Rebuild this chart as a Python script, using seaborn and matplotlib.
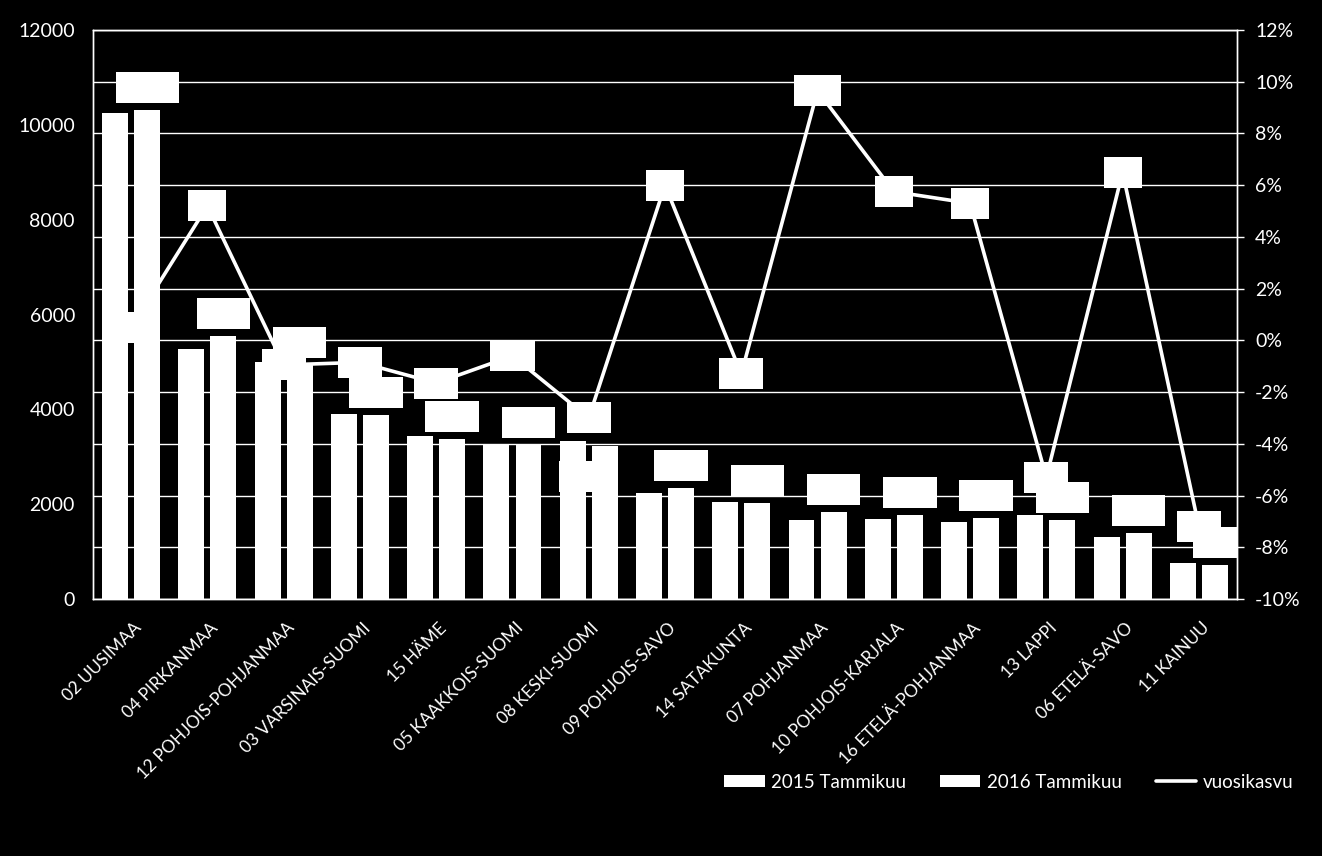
import numpy as np
import pandas as pd
import matplotlib
matplotlib.use("Agg")
import matplotlib.pyplot as plt
import seaborn as sns
from matplotlib.patches import Patch
from matplotlib.lines import Line2D
from matplotlib.transforms import ScaledTranslation

# ---------------- data ----------------
regions = ['02 UUSIMAA', '04 PIRKANMAA', '12 POHJOIS-POHJANMAA', '03 VARSINAIS-SUOMI',
           '15 HÄME', '05 KAAKKOIS-SUOMI', '08 KESKI-SUOMI', '09 POHJOIS-SAVO',
           '14 SATAKUNTA', '07 POHJANMAA', '10 POHJOIS-KARJALA', '16 ETELÄ-POHJANMAA',
           '13 LAPPI', '06 ETELÄ-SAVO', '11 KAINUU']
jan2015 = [10250, 5280, 5000, 3910, 3440, 3250, 3330, 2225, 2050, 1670, 1690, 1625, 1770, 1310, 760]
jan2016 = [10310, 5550, 4950, 3885, 3380, 3250, 3230, 2345, 2030, 1840, 1775, 1705, 1665, 1395, 715]
growth = [0.5, 5.2, -0.95, -0.85, -1.65, -0.6, -3.0, 6.0, -1.3, 9.65, 5.75, 5.3, -5.3, 6.5, -7.2]
series_names = ['2015 Tammikuu', '2016 Tammikuu', 'vuosikasvu']
left_ticks = [0, 2000, 4000, 6000, 8000, 10000, 12000]
right_ticks = [-10, -8, -6, -4, -2, 0, 2, 4, 6, 8, 10, 12]

df = pd.DataFrame({
    'region': regions * 2,
    'year': [series_names[0]] * len(regions) + [series_names[1]] * len(regions),
    'value': jan2015 + jan2016,
})

# ---------------- style ----------------
sns.set_style("dark")
plt.rcParams['font.family'] = ['Lato', 'DejaVu Sans']
plt.rcParams['axes.unicode_minus'] = False
W = 'white'
BG = 'black'

fig = plt.figure(figsize=(13.22, 8.56), dpi=100, facecolor=BG)
ax = fig.add_axes([93/1322, 1 - 599/856, (1237 - 93)/1322, (599 - 30)/856])
ax.set_facecolor(BG)

sns.barplot(data=df, x='region', y='value', hue='year', palette=[W, W],
            width=0.84, gap=0.19, saturation=1, ax=ax, legend=False,
            edgecolor='none', linewidth=0, errorbar=None)
ax.set_xlim(-0.5, len(regions) - 0.5)
ax.set_ylim(0, 12000)
ax.set_yticks(left_ticks)
ax.set_yticklabels([str(t) for t in left_ticks])
ax.set_xlabel('')
ax.set_ylabel('')
ax.grid(False)

ax2 = ax.twinx()
ax2.set_ylim(-10, 12)
ax2.set_yticks(right_ticks)
ax2.set_yticklabels([f"{t}%" for t in right_ticks])
ax2.grid(True, axis='y', color=W, linewidth=1.0, zorder=0)
ax2.grid(False, axis='x')
ax2.set_axisbelow(True)
sns.lineplot(x=np.arange(len(regions)), y=growth, ax=ax2, color=W,
             linewidth=2.6, legend=False, zorder=3)
ax2.set_ylabel('')

# spines / ticks
for a in (ax, ax2):
    for s in a.spines.values():
        s.set_color(W)
        s.set_linewidth(1.0)
        s.set_visible(True)
ax.tick_params(axis='y', colors=W, labelsize=14, length=0, pad=13)
ax2.tick_params(axis='y', colors=W, labelsize=14, length=5, width=1, direction='out', pad=8)
ax.tick_params(axis='x', colors=W, labelsize=12.5, length=0, pad=19)
ax.set_xticks(np.arange(len(regions)))
ax.set_xticklabels(regions, rotation=45, ha='right', va='center', rotation_mode='anchor')
shift = ScaledTranslation(0.08, 0, fig.dpi_scale_trans)
for lbl in ax.get_xticklabels():
    lbl.set_transform(lbl.get_transform() + shift)

# ---------------- data labels (white boxes) ----------------
box = dict(boxstyle='square,pad=0.45', facecolor=W, edgecolor='none')
bar_dx = 0.21
for i, v in enumerate(jan2016):
    dx_pt, dy_pt = 0, 16
    if regions[i] == '08 KESKI-SUOMI':
        dx_pt, dy_pt = -14, -22
    ax.annotate(f"{v:.0f}", xy=(i + bar_dx, v), xytext=(dx_pt, dy_pt),
                textcoords='offset points', ha='center', va='center',
                fontsize=12, color=W, bbox=box, zorder=5, annotation_clip=False)
for i, g in enumerate(growth):
    ax2.annotate(f"{round(g):.0f}%", xy=(i, g), ha='center', va='center',
                 fontsize=12, color=W, bbox=box, zorder=6, annotation_clip=False)

# ---------------- legend ----------------
handles = [Patch(facecolor=W, edgecolor='none'),
           Patch(facecolor=W, edgecolor='none'),
           Line2D([0], [0], color=W, linewidth=2.6)]
leg = fig.legend(handles, series_names, loc='center right',
                 bbox_to_anchor=(1293/1322, 1 - 782/856), ncol=3, frameon=False,
                 fontsize=13.5, handlelength=2.15, handleheight=0.6,
                 handletextpad=0.35, columnspacing=1.8, borderpad=0, borderaxespad=0)
for t in leg.get_texts():
    t.set_color(W)

fig.savefig('out.png', dpi=100, facecolor=BG)
